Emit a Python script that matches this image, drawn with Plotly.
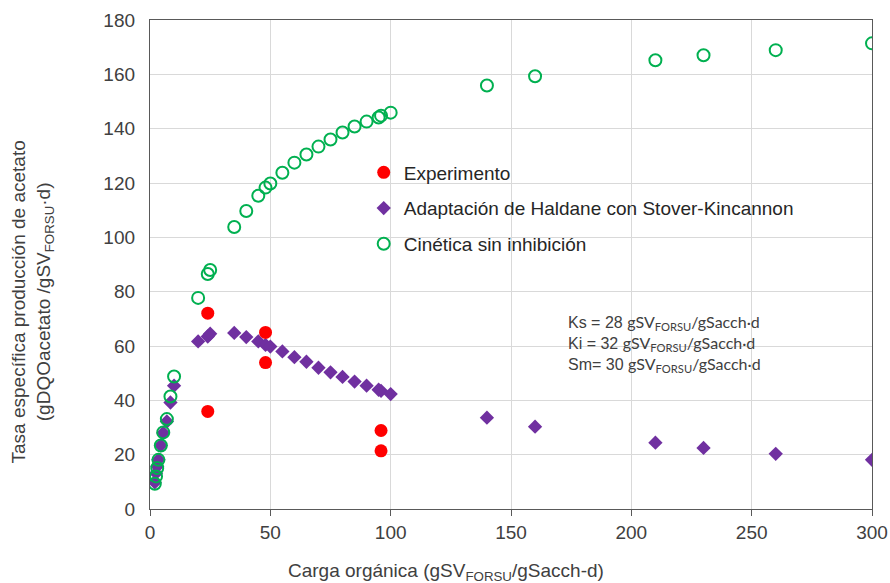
import plotly.graph_objects as go

# Carga orgánica (gSV_FORSU/gSacch-d) for the model curves
x_model = [2, 2.5, 3, 3.5, 4.5, 5.5, 7, 8.5, 10, 20, 24, 25, 35, 40, 45, 48, 50,
           55, 60, 65, 70, 75, 80, 85, 90, 95, 96, 100, 140, 160, 210, 230, 260, 300]

# Adaptación de Haldane con Stover-Kincannon
y_haldane = [9.8, 13.2, 15.7, 18.1, 23.4, 28.0, 32.2, 39.2, 45.4, 61.7, 63.5, 64.5,
             64.8, 63.3, 61.7, 60.4, 59.8, 58.0, 55.9, 54.2, 52.0, 50.3, 48.6, 46.9,
             45.4, 43.9, 43.5, 42.3, 33.6, 30.3, 24.4, 22.5, 20.3, 18.1]

# Cinética sin inhibición
y_sin_inhib = [9.3, 12.0, 15.1, 18.1, 23.4, 28.2, 33.1, 41.4, 48.8, 77.7, 86.5, 88.0,
               103.8, 109.7, 115.3, 118.3, 119.8, 123.8, 127.5, 130.5, 133.4, 136.0,
               138.6, 140.8, 142.6, 144.1, 144.8, 145.9, 155.9, 159.3, 165.2, 167.0,
               168.9, 171.4]

# Experimento
x_exp = [24, 24, 48, 48, 96, 96]
y_exp = [72.1, 35.9, 65.0, 53.9, 28.9, 21.4]

x_ticks = [0, 50, 100, 150, 200, 250, 300]
y_ticks = [0, 20, 40, 60, 80, 100, 120, 140, 160, 180]

FONT = "Liberation Sans, Arial, sans-serif"
TXT = "#404040"
AX = "#595959"
GRID = "#D9D9D9"

fig = go.Figure()

fig.add_trace(go.Scatter(
    x=x_model, y=y_haldane, mode="markers",
    name="Adaptación de Haldane con Stover-Kincannon",
    legendrank=2, legendgroup="b",
    marker=dict(symbol="diamond", size=11, color="#7030A0"),
))
fig.add_trace(go.Scatter(
    x=x_model, y=y_sin_inhib, mode="markers",
    name="Cinética sin inhibición",
    legendrank=3, legendgroup="c",
    marker=dict(symbol="circle-open", size=12, color="#00B050",
                line=dict(width=2, color="#00B050")),
))
fig.add_trace(go.Scatter(
    x=x_exp, y=y_exp, mode="markers",
    name="Experimento",
    legendrank=1, legendgroup="a",
    marker=dict(symbol="circle", size=13, color="#FF0000"),
))

axis_common = dict(
    showline=True, linecolor=AX, linewidth=1.3, mirror=True,
    showgrid=True, gridcolor=GRID, gridwidth=1,
    zeroline=False, automargin=False,
    tickfont=dict(family=FONT, size=19, color=TXT),
)

fig.update_xaxes(range=[0, 300], tickvals=x_ticks, ticks="outside", ticklen=6,
                 tickcolor=AX, **axis_common)
fig.update_yaxes(range=[0, 180], tickvals=y_ticks, ticks="", ticklabelstandoff=10,
                 **axis_common)

units = '<span style="font-family:Lato">gSV<sub>FORSU</sub>/gSacch·d</span>'
fig.add_annotation(
    xref="paper", yref="paper", x=0.5755, y=0.339, xanchor="left", yanchor="middle",
    align="left", showarrow=False,
    text=f"Ks = 28 {units}<br>Ki = 32 {units}<br>Sm= 30 {units}",
    font=dict(family=FONT, size=16, color=TXT),
)

fig.add_annotation(
    xref="paper", yref="paper", x=0.41, y=-0.129, xanchor="center", yanchor="middle",
    showarrow=False,
    text="Carga orgánica (gSV<sub>FORSU</sub>/gSacch-d)",
    font=dict(family=FONT, size=19, color=TXT),
)
fig.add_annotation(
    xref="paper", yref="paper", x=-0.163, y=0.423, xanchor="center", yanchor="middle",
    showarrow=False, textangle=-90,
    text="Tasa específica producción de acetato<br>(gDQOacetato /gSV<sub>FORSU</sub>·d)",
    font=dict(family=FONT, size=19, color=TXT),
)

fig.update_layout(
    width=890, height=583,
    margin=dict(l=150, r=18, t=20, b=74),
    paper_bgcolor="white", plot_bgcolor="white",
    showlegend=True,
    legend=dict(
        x=0.296, y=0.727, xanchor="left", yanchor="top",
        bgcolor="rgba(0,0,0,0)", borderwidth=0,
        font=dict(family=FONT, size=19, color="#262626"),
        tracegroupgap=8, itemwidth=30,
    ),
)

fig.write_html("out.html")
